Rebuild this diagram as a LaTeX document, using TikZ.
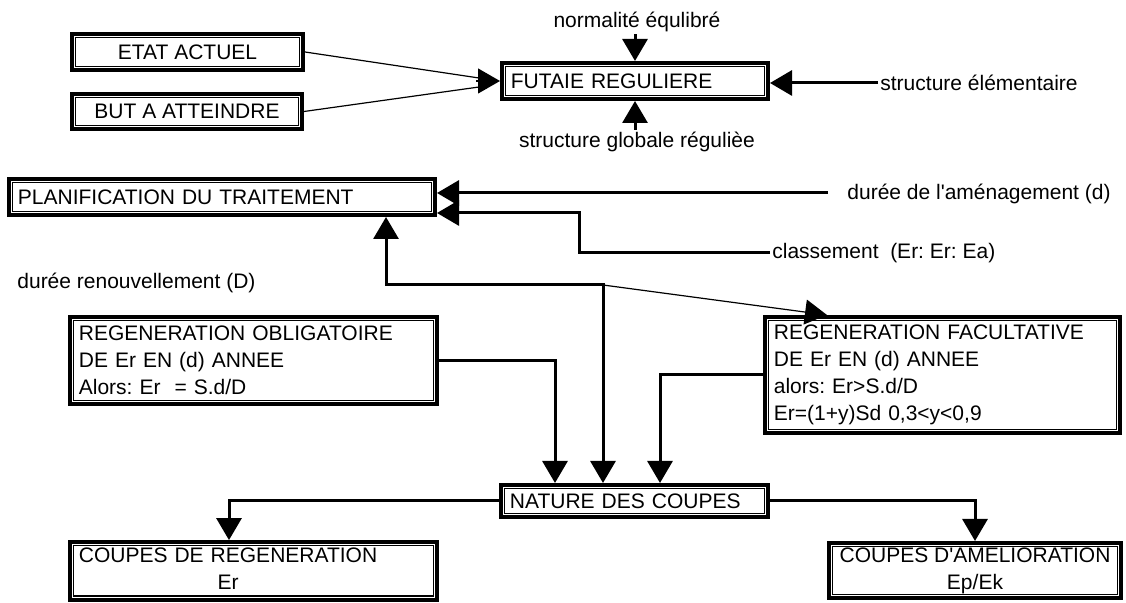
\documentclass[tikz,border=0pt]{standalone}
\usepackage{fontspec}
\setmainfont{Liberation Sans}
\usetikzlibrary{arrows.meta,calc}
\frenchspacing

\tikzset{
  boite/.style={draw, line width=1.9pt, inner xsep=4.5pt, inner ysep=1pt},
  cadre/.style={line width=0.6pt},
  trait/.style={line width=1.5pt},
  fin/.style={line width=0.6pt},
  fleche/.style={-{Triangle[length=11pt,width=12.5pt]}},
  dfleche/.style={{Triangle[length=11pt,width=12.5pt]}-{Triangle[length=11pt,width=12.5pt]}},
  etiq/.style={inner sep=1pt},
}

\begin{document}
\begin{tikzpicture}[x=0.5pt, y=-0.5pt, font=\fontsize{10.5}{13.5}\selectfont]
  \useasboundingbox (0,0) rectangle (1126,603);

  %boxes
  \node[boite, minimum width=115.6pt, minimum height=18.1pt] (etat) at (187.5,52) {ETAT ACTUEL};
  \node[boite, minimum width=115.1pt, minimum height=17.6pt] (but) at (187,111.5) {BUT A ATTEINDRE};
  \node[boite, text width=124.1pt, align=left, minimum height=18.1pt] (fut) at (635,81) {FUTAIE REGULIERE};
  \node[boite, text width=204.1pt, align=left, minimum height=18.1pt] (plan) at (222,197) {PLANIFICATION DU TRAITEMENT};
  \node[boite, text width=174.6pt, align=left, minimum height=43.6pt] (oblig) at (253.5,360.5)
       {REGENERATION OBLIGATOIRE\\DE Er EN (d) ANNEE\\Alors: Er\ \ = S.d/D};
  \node[boite, text width=168.6pt, align=left, minimum height=58.1pt] (facul) at (942.5,375)
       {REGENERATION FACULTATIVE\\DE Er EN (d) ANNEE\\alors: Er>S.d/D\\Er=(1+y)Sd 0,3<y<0,9};
  \node[boite, text width=124.6pt, align=left, minimum height=16.1pt] (nat) at (634.5,501) {NATURE DES COUPES};
  \node[boite, text width=174.6pt, align=left, minimum height=27.1pt] (creg) at (253.5,571)
       {\begin{tabular}{@{}c@{}}COUPES DE REGENERATION\\Er\end{tabular}};
  \node[boite, align=center, minimum width=146.1pt, minimum height=27.6pt] (camel) at (975,570.5)
       {COUPES D\textquotesingle AMELIORATION\\Ep/Ek};

  %inner frames
  \foreach \n in {etat,but,fut,plan,oblig,facul,nat,creg,camel}{
    \draw[cadre] ([shift={(2.9pt,2.9pt)}]\n.south west) rectangle ([shift={(-2.9pt,-2.9pt)}]\n.north east);
  }

  %labels
  \foreach \x/\y/\anc/\txt/\name in {
      637/22/center/normalité équlibré/norm,
      637/142/center/structure globale régulièe/glob,
      878/83/west/structure élémentaire/elem,
      845/194/west/durée de l\textquotesingle aménagement (d)/amen,
      770/253/west/classement\ \ (Er: Er: Ea)/class,
      15/283/west/durée renouvellement (D)/renouv}{
    \node[etiq, anchor=\anc] (\name) at (\x,\y) {\txt};
  }

  %futaie
  \coordinate (j1) at (479,78);
  \coordinate (j2) at (479,87);
  \coordinate (j0) at (476,81);
  \draw[fin] (etat.east) -- (j1);
  \draw[fin] (but.east) -- (j2);
  \draw[fin, fleche] (j0) -- (fut.west);
  \draw[trait, fleche] (norm.south -| fut.north) -- (fut.north);
  \draw[trait, fleche] (glob.north -| fut.south) -- (fut.south);
  \draw[trait, fleche] (elem.west) -- (elem.west -| fut.east);

  %planification
  \coordinate (a1) at (828,193);
  \coordinate (c1) at (579,213);
  \coordinate (h1) at (386,285);
  \coordinate (h2) at (603,285);
  \draw[trait, fleche] (a1) -- (a1 -| plan.east);
  \draw[trait, fleche] (class.west) -| (c1) -- (c1 -| plan.east);
  \draw[trait, dfleche] (plan.south -| h1) -- (h1) -- (h2) -- (nat.north -| h2);
  \draw[fin, fleche] (h2) -- ($(facul.north west)+(64,0)$);

  %coupes
  \coordinate (xo) at (555,0);
  \coordinate (xf) at (660,0);
  \coordinate (xr) at (229,0);
  \draw[trait, fleche] (oblig.east) -| (nat.north -| xo);
  \draw[trait, fleche] (facul.west) -| (nat.north -| xf);
  \draw[trait, fleche] (nat.west) -| (creg.north -| xr);
  \draw[trait, fleche] (nat.east) -| (camel.north);

\end{tikzpicture}
\end{document}
